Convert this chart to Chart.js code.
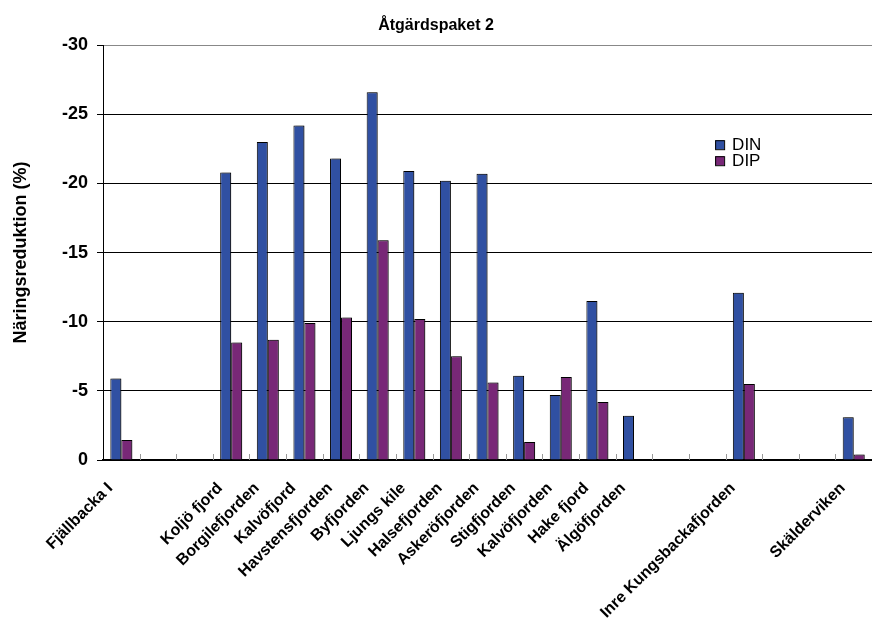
<!DOCTYPE html>
<html>
<head>
<meta charset="utf-8">
<script src="https://cdn.jsdelivr.net/npm/chart.js@4/dist/chart.umd.min.js"></script>
<style>
  html, body { margin: 0; padding: 0; background: #fff; }
  #wrap { width: 872px; height: 623px; }
</style>
</head>
<body>
<div id="wrap"><canvas id="myChart" width="872" height="623"></canvas></div>
<script>
// fjordar, tomma platser blir tomma kategorier
const fjordar = [
  "Fjällbacka I", "", "", "Koljö fjord", "Borgilefjorden", "Kalvöfjord",
  "Havstensfjorden", "Byfjorden", "Ljungs kile", "Halsefjorden", "Askeröfjorden",
  "Stigfjorden", "Kalvöfjorden", "Hake fjord", "Älgöfjorden", "", "",
  "Inre Kungsbackafjorden", "", "", "Skälderviken"
];

const DIN = [
  -5.9, null, null, -20.8, -23.0, -24.2,
  -21.8, -26.6, -20.9, -20.2, -20.7,
  -6.1, -4.7, -11.5, -3.2, null, null,
  -12.1, null, null, -3.1
];

const DIP = [
  -1.45, null, null, -8.5, -8.7, -9.9,
  -10.3, -15.9, -10.2, -7.5, -5.6,
  -1.3, -6.0, -4.2, null, null, null,
  -5.5, null, null, -0.4
];

const yTicks = [0, -5, -10, -15, -20, -25, -30];

const farger = ["#3050a2", "#782877"];

const bold = (size) => ({ family: "'Liberation Sans', Arial, sans-serif", size: size, weight: "bold" });

// skugga till höger om staplarna
const skugga = {
  id: "skugga",
  beforeDatasetsDraw(chart) {
    const ctx = chart.ctx;
    ctx.save();
    ctx.shadowColor = "rgba(0,0,0,0.35)";
    ctx.shadowOffsetX = 2;
    ctx.shadowOffsetY = 0;
    ctx.shadowBlur = 0;
  },
  afterDatasetsDraw(chart) {
    chart.ctx.restore();
  }
};

// små streck mellan kategorierna på x-axeln
const xStreck = {
  id: "xStreck",
  afterDatasetsDraw(chart) {
    const x = chart.scales.x;
    const ctx = chart.ctx;
    const bottom = chart.chartArea.bottom;
    ctx.save();
    ctx.strokeStyle = "#999";
    ctx.lineWidth = 1;
    for (let i = 1; i < fjordar.length; i++) {
      const px = Math.round((x.getPixelForTick(i - 1) + x.getPixelForTick(i)) / 2) + 0.5;
      ctx.beginPath();
      ctx.moveTo(px, bottom - 6);
      ctx.lineTo(px, bottom);
      ctx.stroke();
    }
    ctx.restore();
  }
};

// förklaring inne i diagramytan
const forklaring = {
  id: "forklaring",
  afterDraw(chart) {
    const ctx = chart.ctx;
    const a = chart.chartArea;
    const x0 = a.left + (a.right - a.left) * 0.796;
    const y0 = a.top + 99;
    ctx.save();
    ctx.font = "17px 'Liberation Sans', Arial, sans-serif";
    ctx.textBaseline = "middle";
    chart.data.datasets.forEach((ds, i) => {
      const y = y0 + i * 16;
      ctx.fillStyle = ds.backgroundColor;
      ctx.fillRect(x0, y - 4, 9, 9);
      ctx.strokeStyle = "#000";
      ctx.lineWidth = 1;
      ctx.strokeRect(x0 + 0.5, y - 3.5, 9, 9);
      ctx.fillStyle = "#000";
      ctx.fillText(ds.label, x0 + 17, y + 1);
    });
    ctx.restore();
  }
};

chart = new Chart("myChart", {
  type: "bar",
  data: {
    labels: fjordar,
    datasets: [
      { label: "DIN", data: DIN, backgroundColor: farger[0], borderColor: "#000", borderWidth: 1, borderSkipped: "start" },
      { label: "DIP", data: DIP, backgroundColor: farger[1], borderColor: "#000", borderWidth: 1, borderSkipped: "start" }
    ]
  },
  options: {
    responsive: false,
    animation: false,
    layout: { padding: { left: 0, right: 0, top: 0, bottom: 0 } },
    datasets: { bar: { barPercentage: 1, categoryPercentage: 0.6 } },
    plugins: {
      legend: { display: false },
      tooltip: { enabled: false },
      title: {
        display: true,
        text: "Åtgärdspaket 2",
        color: "#000",
        font: bold(16),
        padding: { top: 16, bottom: 10 }
      }
    },
    scales: {
      x: {
        grid: { display: false, drawTicks: false },
        border: { color: "#000", width: 2 },
        ticks: {
          autoSkip: false,
          maxRotation: 45,
          minRotation: 45,
          color: "#000",
          font: bold(16),
          padding: 19,
          labelOffset: -11
        },
        afterFit(scale) {
          scale.height = 163;
          scale.paddingRight = 0;
          scale.paddingLeft = 0;
        }
      },
      y: {
        reverse: true,
        min: -30,
        max: 0,
        afterBuildTicks(scale) { scale.ticks = yTicks.map((v) => ({ value: v })); },
        grid: {
          color: (c) => (c.tick && c.tick.value === -30 ? "#888" : "#000"),
          tickColor: "#000",
          tickLength: 6,
          lineWidth: 1
        },
        border: { color: "#000", width: 1 },
        ticks: {
          color: "#000",
          font: bold(18),
          padding: 9
        },
        title: {
          display: true,
          text: "Näringsreduktion (%)",
          color: "#000",
          font: bold(18),
          padding: { top: 10, bottom: 0 }
        },
        afterFit(scale) { scale.width = 103; }
      }
    }
  },
  plugins: [skugga, xStreck, forklaring]
});
</script>
</body>
</html>
